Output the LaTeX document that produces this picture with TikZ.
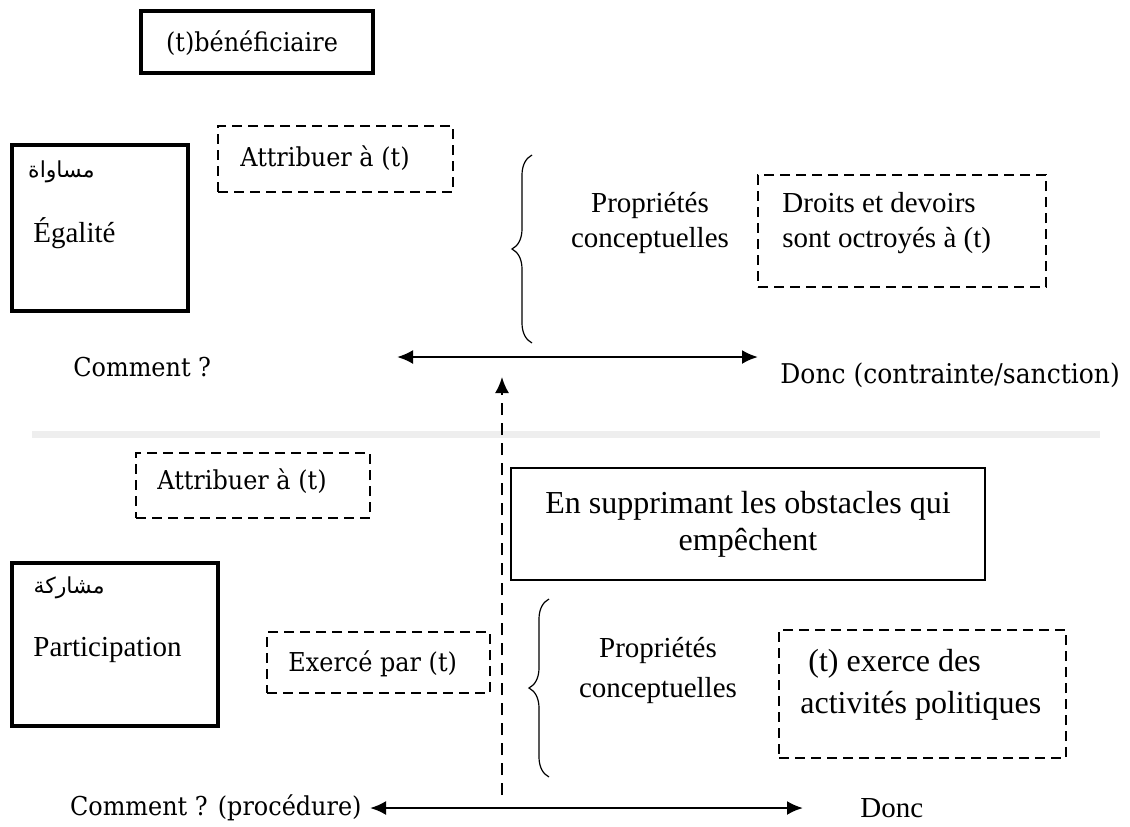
\documentclass[tikz,border=0pt]{standalone}
\usepackage{fontspec}
\setmainfont{Liberation Serif}
\newfontfamily\cambria[FakeStretch=0.92]{DejaVu Serif}
\newfontfamily\arabicfont[Script=Arabic]{DejaVu Sans}
\TeXXeTstate=1
\usetikzlibrary{positioning, arrows.meta, decorations.pathreplacing}
\definecolor{rulegrey}{HTML}{EEEEEE}

\begin{document}
\begin{tikzpicture}[x=0.5pt,y=-0.5pt,>={Latex[length=8pt,width=7pt]},font=\fontsize{14.5}{17.5}\selectfont]
        \tikzstyle{titlebox}=[draw,line width=2pt,inner sep=0pt]
        \tikzstyle{dashbox}=[draw,line width=0.75pt,dash pattern=on 5pt off 3pt,inner sep=0pt]
        \tikzstyle{plainbox}=[draw,line width=0.6pt,inner sep=0pt,align=center,font=\fontsize{16}{18.5}\selectfont]
        \tikzstyle{word}=[inner sep=0pt]
        \tikzstyle{bigword}=[inner sep=0pt,font=\fontsize{16}{21}\selectfont]
        \tikzstyle{arabic}=[inner sep=0pt,anchor=east,font=\arabicfont\fontsize{11}{13}\selectfont]
        \tikzstyle{serif2}=[inner sep=0pt,font=\cambria\fontsize{13}{15}\selectfont]
        \tikzstyle{bracket}=[decorate,decoration={brace,amplitude=10pt},line width=0.6pt]
        \tikzstyle{axis}=[<->,line width=1.2pt]

        \useasboundingbox (0,0) rectangle (1130,826);

        % upper part
        \node[titlebox,minimum width=116pt,minimum height=31pt] (benef) at (257,42) {};
        \node[serif2] (benefT) at (252,43) {(t)bénéficiaire};

        \node[titlebox,minimum width=88pt,minimum height=83pt] (egal) at (100,228) {};
        \node[arabic] (egalAr) at (95,172) {\beginR مساواة\endR};
        \node[word,anchor=west] (egalFr) at (33,233) {Égalité};

        \node[dashbox,minimum width=117.5pt,minimum height=33pt] (attr1) at (335.5,159) {};
        \node[serif2,anchor=west] (attr1T) at (240,158) {Attribuer à (t)};

        \draw[bracket] (532,343) -- (532,155);
        \node[word,align=center] (prop1) at (650,223) {Propriétés\\conceptuelles};

        \node[dashbox,minimum width=144pt,minimum height=56pt] (droits) at (902,231) {};
        \node[word,align=left,anchor=west] (droitsT) at (782,223) {Droits et devoirs\\sont octroyés à (t)};

        \node[serif2,anchor=west] (how1) at (73,367) {Comment ?};
        \node[serif2,anchor=west,font=\cambria\fontsize{13.6}{15}\selectfont] (then1) at (780,375) {Donc (contrainte/sanction)};
        \coordinate (how1R) at (397,357);
        \coordinate (then1L) at (758,357);
        \draw[axis] (how1R) -- (then1L);

        \coordinate (rule0) at (32,434);
        \coordinate (rule1) at (1100,434);
        \draw[rulegrey,line width=3.5pt] (rule0) -- (rule1);

        % lower part
        \node[dashbox,minimum width=117pt,minimum height=32.5pt] (attr2) at (253,485.5) {};
        \node[serif2,anchor=west] (attr2T) at (157,481) {Attribuer à (t)};

        \node[plainbox,minimum width=237pt,minimum height=56pt] (supp) at (748,524) {En supprimant les obstacles qui\\empêchent};

        \node[titlebox,minimum width=103pt,minimum height=81.5pt] (part) at (115,644.5) {};
        \node[arabic] (partAr) at (105,588) {\beginR مشاركة\endR};
        \node[word,anchor=west] (partFr) at (33,650) {Participation};

        \node[dashbox,minimum width=111.5pt,minimum height=30.5pt] (exer) at (378.5,662.5) {};
        \node[serif2,anchor=west] (exerT) at (288,664) {Exercé par (t)};

        \draw[bracket] (549,777) -- (549,599);
        \node[word,align=center,font=\fontsize{14.5}{20}\selectfont] (prop2) at (658,670) {Propriétés\\conceptuelles};

        \node[dashbox,minimum width=143.5pt,minimum height=64pt] (activ) at (922.5,694) {};
        \node[bigword,align=left,anchor=west] (activT) at (800,685) {\hspace{4pt}(t) exerce des\\activités politiques};

        \node[serif2,anchor=east] (how2) at (362,808) {Comment ? (procédure)};
        \node[word,anchor=west] (then2) at (860,808) {Donc};
        \coordinate (how2R) at (370,808);
        \coordinate (then2L) at (803,808);
        \draw[axis] (how2R) -- (then2L);

        \coordinate (up0) at (502,795);
        \coordinate (up1) at (502,377);
        \draw[->,line width=1pt,dash pattern=on 6pt off 4pt] (up0) -- (up1);
\end{tikzpicture}
\end{document}
